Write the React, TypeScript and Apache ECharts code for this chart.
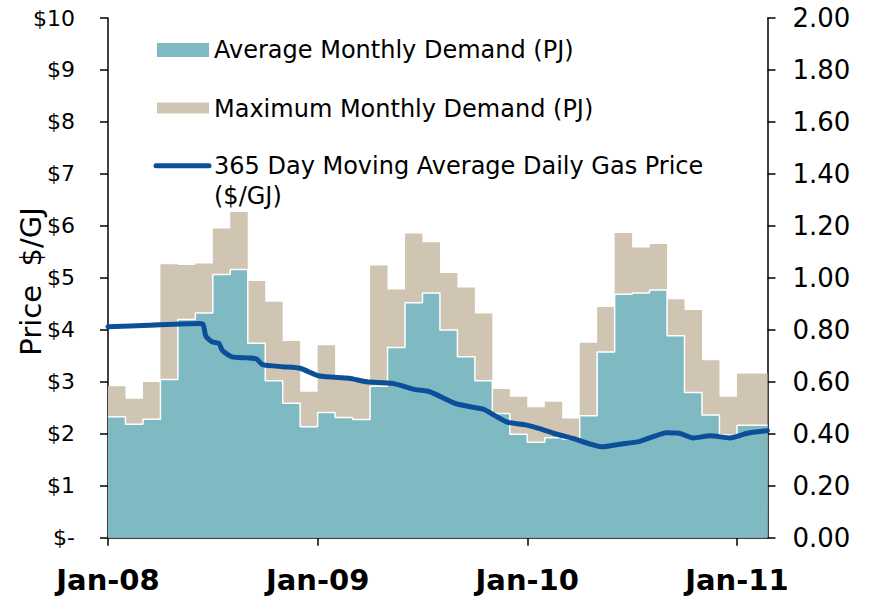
import React, { useEffect, useRef } from "react";
import * as echarts from "echarts";

// Months from Jan-08 (index 0) to Jan-11 (index 36)
const yearTickMonths = [0, 12, 24, 36];
const yearTickLabels = ["Jan-08", "Jan-09", "Jan-10", "Jan-11"];
const axisEndMonth = 37.75;

// Average monthly demand (PJ), Jan-08 .. Jan-11
const avgDemand = [
  0.465, 0.437, 0.456, 0.609, 0.84, 0.865, 1.013, 1.032, 0.748, 0.604, 0.517, 0.427,
  0.482, 0.463, 0.455, 0.583, 0.732, 0.904, 0.942, 0.799, 0.696, 0.604, 0.478, 0.398,
  0.367, 0.385, 0.38, 0.469, 0.715, 0.937, 0.942, 0.953, 0.777, 0.559, 0.472, 0.395,
  0.433,
];

// Maximum monthly demand (PJ), Jan-08 .. Jan-11
const maxDemand = [
  0.583, 0.535, 0.599, 1.052, 1.049, 1.055, 1.19, 1.253, 0.988, 0.908, 0.757, 0.562,
  0.741, 0.61, 0.6, 1.048, 0.955, 1.171, 1.137, 1.019, 0.963, 0.863, 0.572, 0.542,
  0.502, 0.523, 0.459, 0.75, 0.888, 1.173, 1.117, 1.13, 0.918, 0.876, 0.683, 0.542,
  0.632,
];

// 365 day moving average daily gas price ($/GJ)
const priceMonths = [
  0, 2.4, 5.2, 5.45, 5.6, 5.95, 6.35, 6.55, 7.1, 8.0, 8.5, 8.85, 10.0, 11.0, 12.1,
  13.8, 14.8, 16.3, 17.6, 18.4, 19.9, 20.9, 21.5, 22.8, 23.9, 24.7, 25.5, 26.6, 28.3,
  29.3, 30.4, 32.0, 32.7, 33.5, 34.5, 35.6, 36.6, 37.75,
];
const priceValues = [
  4.06, 4.09, 4.12, 4.1, 3.88, 3.77, 3.74, 3.6, 3.48, 3.46, 3.44, 3.33, 3.29, 3.26, 3.11,
  3.07, 3.0, 2.97, 2.85, 2.81, 2.58, 2.51, 2.47, 2.23, 2.17, 2.1, 2.01, 1.91, 1.75,
  1.8, 1.85, 2.02, 2.01, 1.92, 1.96, 1.92, 2.01, 2.06,
];

const legendLabels = [
  "Average Monthly Demand (PJ)",
  "Maximum Monthly Demand (PJ)",
  "365 Day Moving Average Daily Gas Price\n($/GJ)",
];

const TEAL = "#7fb9c2";
const BEIGE = "#d0c4b2";
const BLUE = "#0b4f98";
const FONT = "DejaVu Sans";

function stepData(values: number[]) {
  const d = values.map((v, i) => [i, v]);
  d.push([axisEndMonth, values[values.length - 1]]);
  return d;
}

export default function App() {
  const ref = useRef<HTMLDivElement>(null);

  useEffect(() => {
    if (!ref.current) return;
    const chart = echarts.init(ref.current, undefined, { renderer: "svg" });
    const option: any = {
      animation: false,
      backgroundColor: "#ffffff",
      grid: { left: 108, right: 103.5, top: 18, bottom: 58.3, containLabel: false },
      xAxis: {
        type: "value",
        min: 0,
        max: axisEndMonth,
        splitLine: { show: false },
        axisLine: { show: true, lineStyle: { color: "#000", width: 1.5 } },
        axisTick: {
          show: true,
          length: 8,
          lineStyle: { color: "#000", width: 1.5 },
          customValues: yearTickMonths,
        },
        axisLabel: {
          customValues: yearTickMonths,
          formatter: (v: number) => {
            const i = yearTickMonths.indexOf(Math.round(v));
            return i >= 0 ? yearTickLabels[i] : "";
          },
          color: "#000",
          fontFamily: FONT,
          fontWeight: "bold",
          fontSize: 29,
          margin: 28,
        },
      },
      yAxis: [
        {
          type: "value",
          min: 0,
          max: 10,
          interval: 1,
          position: "left",
          splitLine: { show: false },
          axisLine: { show: true, lineStyle: { color: "#000", width: 1.5 } },
          axisTick: { show: true, length: 8, lineStyle: { color: "#000", width: 1.5 } },
          axisLabel: {
            formatter: (v: number) => (v === 0 ? "$-" : "$" + v),
            color: "#000",
            fontFamily: FONT,
            fontSize: 22,
            margin: 33,
          },
        },
        {
          type: "value",
          min: 0,
          max: 2,
          interval: 0.2,
          position: "right",
          splitLine: { show: false },
          axisLine: { show: true, lineStyle: { color: "#000", width: 1.5 } },
          axisTick: { show: true, length: 8, lineStyle: { color: "#000", width: 1.5 } },
          axisLabel: {
            formatter: (v: number) => v.toFixed(2),
            color: "#000",
            fontFamily: FONT,
            fontSize: 26,
            margin: 25,
          },
        },
      ],
      series: [
        {
          name: "Maximum Monthly Demand (PJ)",
          type: "line",
          yAxisIndex: 1,
          step: "end",
          symbol: "none",
          data: stepData(maxDemand),
          lineStyle: { width: 0, color: BEIGE },
          areaStyle: { color: BEIGE, opacity: 1 },
          z: 1,
        },
        {
          name: "Average Monthly Demand (PJ)",
          type: "line",
          yAxisIndex: 1,
          step: "end",
          symbol: "none",
          data: stepData(avgDemand),
          lineStyle: { width: 1.5, color: "#ffffff" },
          areaStyle: { color: TEAL, opacity: 1 },
          z: 2,
        },
        {
          name: "365 Day Moving Average Daily Gas Price ($/GJ)",
          type: "line",
          yAxisIndex: 0,
          symbol: "none",
          smooth: 0.2,
          data: priceMonths.map((m, i) => [m, priceValues[i]]),
          lineStyle: { width: 5, color: BLUE, cap: "round", join: "round" },
          z: 3,
        },
      ],
      graphic: [
        {
          type: "text",
          x: 31,
          y: 281.5,
          rotation: Math.PI / 2,
          style: {
            text: "Price  $/GJ",
            font: `29px "${FONT}"`,
            fill: "#000",
            align: "center",
            verticalAlign: "middle",
          },
        },
        { type: "rect", shape: { x: 157, y: 43, width: 52, height: 14 }, style: { fill: TEAL } },
        {
          type: "text",
          x: 214,
          y: 50,
          style: { text: legendLabels[0], font: `24px "${FONT}"`, fill: "#000", verticalAlign: "middle" },
        },
        { type: "rect", shape: { x: 157, y: 102.5, width: 52, height: 11 }, style: { fill: BEIGE } },
        {
          type: "text",
          x: 214,
          y: 108.5,
          style: { text: legendLabels[1], font: `24px "${FONT}"`, fill: "#000", verticalAlign: "middle" },
        },
        {
          type: "line",
          shape: { x1: 156, y1: 165.7, x2: 209, y2: 165.7 },
          style: { stroke: BLUE, lineWidth: 5, lineCap: "round" },
        },
        {
          type: "text",
          x: 214,
          y: 151,
          style: {
            text: legendLabels[2],
            font: `24px "${FONT}"`,
            lineHeight: 30,
            fill: "#000",
            verticalAlign: "top",
          },
        },
      ],
    };
    chart.setOption(option);
    return () => chart.dispose();
  }, []);

  return (
    <div
      ref={ref}
      style={{ position: "fixed", left: 0, top: 0, width: 871, height: 596, background: "#fff" }}
    />
  );
}
